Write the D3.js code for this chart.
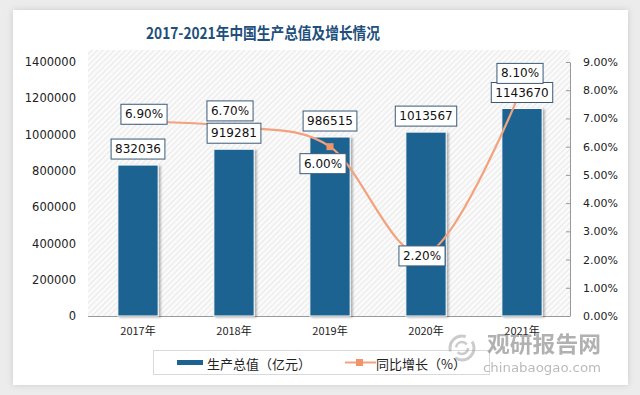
<!DOCTYPE html>
<html><head><meta charset="utf-8">
<script src="https://cdn.jsdelivr.net/npm/d3@7"></script>
<style>
html,body{margin:0;padding:0;background:#ececec;}
svg{display:block;}
</style></head>
<body>
<script>
const years = ["2017年","2018年","2019年","2020年","2021年"];
const gdp = [832036, 919281, 986515, 1013567, 1143670];
const growth = [6.9, 6.7, 6.0, 2.2, 8.1];
const leftTicks = [0,200000,400000,600000,800000,1000000,1200000,1400000];
const rightTicks = [0,1,2,3,4,5,6,7,8,9];
const title = "2017-2021年中国生产总值及增长情况";
const legendLabels = ["生产总值（亿元）","同比增长（%）"];
// label offsets (layout only)
const pctLabelOffset = [[6,-7],[-4,-16],[-7,17],[-4,2],[-2,-14]];

const W=640,H=395;
const svg=d3.select("body").append("svg").attr("width",W).attr("height",H);
const defs=svg.append("defs");
const f=defs.append("filter").attr("id","sh").attr("x","-10%").attr("y","-10%").attr("width","130%").attr("height","130%");
f.append("feDropShadow").attr("dx",0).attr("dy",0).attr("stdDeviation",3).attr("flood-color","#000").attr("flood-opacity",0.15);
const f2=defs.append("filter").attr("id","bsh").attr("x","-20%").attr("y","-5%").attr("width","150%").attr("height","110%");
f2.append("feDropShadow").attr("dx",2).attr("dy",1).attr("stdDeviation",1.2).attr("flood-color","#000").attr("flood-opacity",0.3);
const pat=defs.append("pattern").attr("id","hatch").attr("patternUnits","userSpaceOnUse").attr("width",4).attr("height",4).attr("patternTransform","rotate(45)");
pat.append("rect").attr("width",4).attr("height",4).attr("fill","#fafafa");
pat.append("line").attr("x1",0).attr("y1",0).attr("x2",0).attr("y2",4).attr("stroke","#dedede").attr("stroke-width",1.2);

// card
svg.append("rect").attr("x",13).attr("y",10).attr("width",615).attr("height",375).attr("fill","#fff").attr("filter","url(#sh)");

const x0=90,x1=570,yTop=62,yBot=316;
svg.append("rect").attr("x",88).attr("y",50).attr("width",x1-88).attr("height",yBot-50).attr("fill","url(#hatch)");

svg.append("text").attr("x",263).attr("y",39).attr("text-anchor","middle")
 .attr("font-family","'Noto Sans CJK SC'").attr("font-weight","bold").attr("font-size",16)
 .attr("textLength",234).attr("lengthAdjust","spacingAndGlyphs")
 .attr("fill","#1f4f7c").text(title);

const x=d3.scaleBand().domain(years).range([x0,x1]).paddingInner(0.58).paddingOuter(0.29);
const yL=d3.scaleLinear().domain([0,1400000]).range([yBot,yTop]);
const yR=d3.scaleLinear().domain([0,9]).range([yBot,yTop]);

// left axis
const gl=svg.append("g").attr("transform",`translate(${x0},0)`)
 .call(d3.axisLeft(yL).tickValues(leftTicks).tickSize(0).tickPadding(14).tickFormat(d3.format("d")));
gl.select(".domain").remove();
gl.selectAll("text").attr("font-family","'DejaVu Sans'").attr("font-size",11.5).attr("fill","#222");

// right axis
const gr=svg.append("g").attr("transform",`translate(${x1},0)`)
 .call(d3.axisRight(yR).tickValues(rightTicks).tickSizeInner(-4).tickSizeOuter(0).tickPadding(13).tickFormat(d=>d.toFixed(2)+"%"));
gr.select(".domain").attr("stroke","#999");
gr.selectAll(".tick line").attr("stroke","#999");
gr.selectAll("text").attr("font-family","'DejaVu Sans'").attr("font-size",11).attr("fill","#222");

// bottom axis
const gb=svg.append("g").attr("transform",`translate(0,${yBot})`)
 .call(d3.axisBottom(x).tickSize(0).tickPadding(11));
gb.select(".domain").attr("stroke","#9a9a9a").attr("d",`M${x0-2},0.5H${x1}`);
gb.selectAll("text").attr("font-family","'Noto Sans CJK SC'").attr("font-size",11).attr("fill","#222");

// bars
svg.append("g").selectAll("rect").data(gdp).join("rect")
 .attr("x",(d,i)=>x(years[i])).attr("y",d=>yL(d)).attr("width",x.bandwidth()).attr("height",d=>yBot-yL(d))
 .attr("fill","#1c6391").attr("stroke","#ffffff").attr("stroke-width",1).attr("filter","url(#bsh)");

// line
const cx=i=>x(years[i])+x.bandwidth()/2;
const line=d3.line().x((d,i)=>cx(i)).y(d=>yR(d)).curve(d3.curveCardinal.tension(0));
svg.append("path").datum(growth).attr("d",line).attr("fill","none").attr("stroke","#f2a27c").attr("stroke-width",2.2);
svg.append("g").selectAll("rect").data(growth).join("rect")
 .attr("x",(d,i)=>cx(i)-3.5).attr("y",d=>yR(d)-3.5).attr("width",7).attr("height",7).attr("fill","#f0956a");

function box(g,cxp,cyp,txt,fs){
  const t=g.append("text").attr("x",cxp).attr("y",cyp).attr("text-anchor","middle").attr("dominant-baseline","central")
   .attr("font-family","'DejaVu Sans'").attr("font-size",fs).attr("fill","#111").text(txt);
  const bb=t.node().getBBox();
  g.insert("rect","text").attr("x",bb.x-4).attr("y",cyp-10).attr("width",bb.width+8).attr("height",20)
   .attr("fill","#fff").attr("stroke","#3a5a78").attr("stroke-width",1);
}
// value labels
gdp.forEach((d,i)=>{ const g=svg.append("g"); box(g,cx(i),yL(d)-16,String(d),12); });
growth.forEach((d,i)=>{ const g=svg.append("g"); const o=pctLabelOffset[i]; box(g,cx(i)+o[0],yR(d)+o[1],d.toFixed(2)+"%",12); });

// legend
const lg=svg.append("g");
lg.append("rect").attr("x",153.5).attr("y",350.5).attr("width",336).attr("height",24).attr("fill","#fff").attr("stroke","#d9d9d9");
lg.append("rect").attr("x",177).attr("y",360).attr("width",26).attr("height",5).attr("fill","#1c6391");
lg.append("text").attr("x",207).attr("y",363).attr("dominant-baseline","central").attr("font-family","'Noto Sans CJK SC'").attr("font-size",13).attr("fill","#222").text(legendLabels[0]);
lg.append("line").attr("x1",345).attr("x2",376).attr("y1",362.5).attr("y2",362.5).attr("stroke","#f2a27c").attr("stroke-width",2);
lg.append("rect").attr("x",356).attr("y",359).attr("width",7).attr("height",7).attr("fill","#f0956a");
lg.append("text").attr("x",376).attr("y",363).attr("dominant-baseline","central").attr("font-family","'Noto Sans CJK SC'").attr("font-size",13).attr("fill","#222").text(legendLabels[1]);

// watermark
const wm=svg.append("g").attr("opacity",0.5);
wm.append("circle").attr("cx",462).attr("cy",348).attr("r",12).attr("fill","none").attr("stroke","#999").attr("stroke-width",3).attr("stroke-dasharray","26 8");
wm.append("circle").attr("cx",462).attr("cy",348).attr("r",6).attr("fill","none").attr("stroke","#999").attr("stroke-width",2.5).attr("stroke-dasharray","14 5");
wm.append("text").attr("x",487).attr("y",352).attr("font-family","'Noto Sans CJK SC'").attr("font-weight","bold").attr("font-size",22)
 .attr("textLength",114).attr("lengthAdjust","spacingAndGlyphs").attr("fill","#666").text("观研报告网");
wm.append("text").attr("x",483).attr("y",372).attr("font-family","'DejaVu Sans'").attr("font-size",13)
 .attr("textLength",118).attr("lengthAdjust","spacingAndGlyphs").attr("fill","#777").text("chinabaogao.com");
</script>
</body></html>
